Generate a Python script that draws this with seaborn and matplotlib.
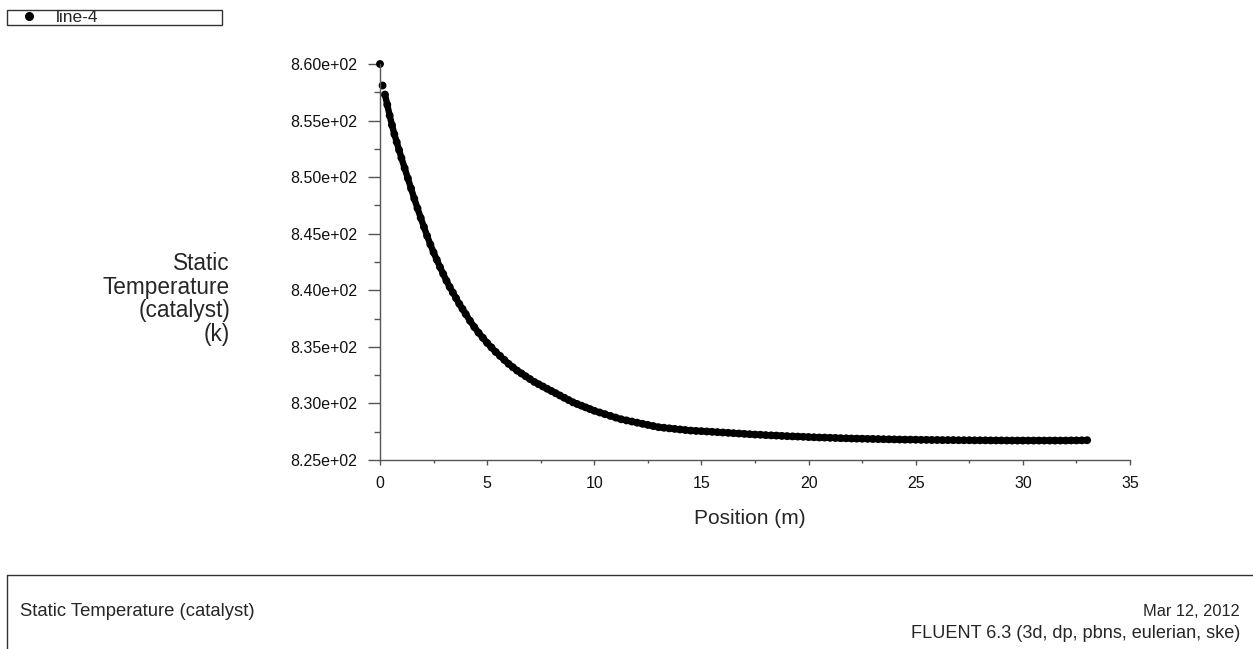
import numpy as np
import pandas as pd
import matplotlib
matplotlib.use("Agg")
import matplotlib.pyplot as plt
from matplotlib.lines import Line2D
from matplotlib.ticker import MultipleLocator, FuncFormatter
import seaborn as sns


# position along line-4 (m)
position = [
    0.0, 0.12, 0.23, 0.34, 0.45, 0.56, 0.67, 0.78, 0.89, 1.0,
    1.15, 1.3, 1.45, 1.6, 1.75, 1.9, 2.05, 2.2, 2.35, 2.5,
    2.65, 2.8, 2.95, 3.1, 3.25, 3.4, 3.55, 3.7, 3.85, 4.0,
    4.2, 4.4, 4.6, 4.8, 5.0, 5.2, 5.4, 5.6, 5.8, 6.0,
    6.2, 6.4, 6.6, 6.8, 7.0, 7.2, 7.4, 7.6, 7.8, 8.0,
    8.2, 8.4, 8.6, 8.8, 9.0, 9.2, 9.4, 9.6, 9.8, 10.0,
    10.25, 10.5, 10.75, 11.0, 11.25, 11.5, 11.75, 12.0, 12.25, 12.5,
    12.75, 13.0, 13.25, 13.5, 13.75, 14.0, 14.25, 14.5, 14.75, 15.0,
    15.25, 15.5, 15.75, 16.0, 16.25, 16.5, 16.75, 17.0, 17.25, 17.5,
    17.75, 18.0, 18.25, 18.5, 18.75, 19.0, 19.25, 19.5, 19.75, 20.0,
    20.25, 20.5, 20.75, 21.0, 21.25, 21.5, 21.75, 22.0, 22.25, 22.5,
    22.75, 23.0, 23.25, 23.5, 23.75, 24.0, 24.25, 24.5, 24.75, 25.0,
    25.25, 25.5, 25.75, 26.0, 26.25, 26.5, 26.75, 27.0, 27.25, 27.5,
    27.75, 28.0, 28.25, 28.5, 28.75, 29.0, 29.25, 29.5, 29.75, 30.0,
    30.25, 30.5, 30.75, 31.0, 31.25, 31.5, 31.75, 32.0, 32.25, 32.5,
    32.75, 33.0,
]

# static temperature of the catalyst (K)
temperature = [
    860.0, 858.1, 857.3, 856.4, 855.45, 854.6, 853.8, 853.1, 852.4, 851.7,
    850.8, 849.9, 849.0, 848.1, 847.25, 846.4, 845.6, 844.8, 844.05, 843.35,
    842.7, 842.05, 841.45, 840.85, 840.3, 839.8, 839.3, 838.8, 838.35, 837.9,
    837.3, 836.75, 836.25, 835.8, 835.35, 834.95, 834.55, 834.2, 833.85, 833.5,
    833.2, 832.9, 832.65, 832.4, 832.15, 831.9, 831.7, 831.5, 831.3, 831.1,
    830.9, 830.7, 830.5, 830.3, 830.1, 829.95, 829.8, 829.65, 829.5, 829.35,
    829.2, 829.05, 828.9, 828.75, 828.6, 828.5, 828.4, 828.3, 828.2, 828.1,
    828.0, 827.9, 827.85, 827.8, 827.75, 827.7, 827.65, 827.6, 827.57, 827.55,
    827.52, 827.49, 827.46, 827.43, 827.4, 827.37, 827.34, 827.31, 827.28, 827.25,
    827.23, 827.2, 827.18, 827.16, 827.13, 827.11, 827.09, 827.07, 827.05, 827.03,
    827.01, 826.99, 826.98, 826.96, 826.95, 826.93, 826.92, 826.9, 826.89, 826.88,
    826.87, 826.86, 826.85, 826.84, 826.83, 826.82, 826.81, 826.8, 826.8, 826.79,
    826.78, 826.78, 826.77, 826.77, 826.76, 826.76, 826.76, 826.75, 826.75, 826.75,
    826.74, 826.74, 826.74, 826.73, 826.73, 826.73, 826.72, 826.72, 826.72, 826.72,
    826.72, 826.72, 826.72, 826.72, 826.72, 826.72, 826.72, 826.72, 826.73, 826.73,
    826.74, 826.75,
]

x_ticks = [0, 5, 10, 15, 20, 25, 30, 35]
y_ticks = [825, 830, 835, 840, 845, 850, 855, 860]

series_name = "line-4"
x_label = "Position (m)"
y_label = "Static\nTemperature\n(catalyst)\n(k)"
footer_left = "Static Temperature (catalyst)"
footer_date = "Mar 12, 2012"
footer_solver = "FLUENT 6.3 (3d, dp, pbns, eulerian, ske)"


def make_plot():

    sns.set_style("ticks")
    plt.rcParams["font.family"] = ["Liberation Sans", "DejaVu Sans"]

    df = pd.DataFrame({"Position": position, "Temperature": temperature})

    W, H = 1253, 649
    fig = plt.figure(figsize=(W / 100, H / 100), dpi=100)
    ax = fig.add_axes([380 / W, 1 - 460 / H, 750 / W, 396 / H])

    # the first samples stand apart, the rest are so dense they form a band
    sns.lineplot(data=df.iloc[2:], x="Position", y="Temperature", ax=ax,
                 color="black", lw=4.6, sort=False, estimator=None,
                 solid_capstyle="round", solid_joinstyle="round",
                 clip_on=False, legend=False)
    sns.scatterplot(data=df, x="Position", y="Temperature", ax=ax,
                    color="black", s=32, edgecolor="none", linewidth=0,
                    clip_on=False, legend=False)

    ax.set_xlim(0, 35)
    ax.set_ylim(825, 860)
    ax.set_xticks(x_ticks)
    ax.set_yticks(y_ticks)
    ax.xaxis.set_minor_locator(MultipleLocator(2.5))
    ax.yaxis.set_minor_locator(MultipleLocator(2.5))
    ax.yaxis.set_major_formatter(FuncFormatter(lambda v, p: f"{v:.2e}"))

    axis_col = "#555555"
    for side in ["top", "right"]:
        ax.spines[side].set_visible(False)
    for side in ["left", "bottom"]:
        ax.spines[side].set_color(axis_col)
        ax.spines[side].set_linewidth(1.0)

    ax.tick_params(axis="y", which="major", direction="out", length=8.6,
                   width=1, color=axis_col, pad=8, labelsize=11.5, labelcolor="#111111")
    ax.tick_params(axis="y", which="minor", direction="out", length=4.3,
                   width=1, color=axis_col)
    ax.tick_params(axis="x", which="major", direction="out", length=3.6,
                   width=1, color=axis_col, pad=8, labelsize=11.5, labelcolor="#111111")
    ax.tick_params(axis="x", which="minor", direction="out", length=2.2,
                   width=1, color=axis_col)

    ax.set_xlabel("")
    ax.set_ylabel("")
    fig.text(750 / W, 1 - 518 / H, x_label, ha="center", va="center", fontsize=15)
    fig.text(230 / W, 1 - 299 / H, y_label, ha="right", va="center",
             fontsize=16.3, linespacing=1.02, multialignment="right")

    # legend box in the top left corner
    handle = Line2D([], [], marker="o", color="black", linestyle="",
                    markersize=5.5)
    fig.legend([handle], [series_name], loc="lower left",
               bbox_to_anchor=(7 / W, 1 - 25 / H, 215 / W, 17 / H),
               mode="expand", fontsize=12.5, frameon=True, fancybox=False,
               borderpad=0.0, handlelength=2.5, handletextpad=0.3,
               borderaxespad=0, edgecolor="#333333", framealpha=1)

    # footer frame and captions
    fy = 1 - 575 / H
    fig.add_artist(Line2D([7 / W, 1], [fy, fy], color="#333333", lw=1,
                          transform=fig.transFigure))
    fig.add_artist(Line2D([7 / W, 7 / W], [0, fy], color="#333333", lw=1,
                          transform=fig.transFigure))
    fig.text(20 / W, 1 - 612 / H, footer_left, ha="left", va="center", fontsize=13.3)
    fig.text(1240 / W, 1 - 612 / H, footer_date, ha="right", va="center", fontsize=11.8)
    fig.text(1240 / W, 1 - 633 / H, footer_solver, ha="right", va="center", fontsize=13.1)

    fig.savefig("out.png", dpi=100)
    plt.close(fig)


if __name__ == "__main__":
    make_plot()
